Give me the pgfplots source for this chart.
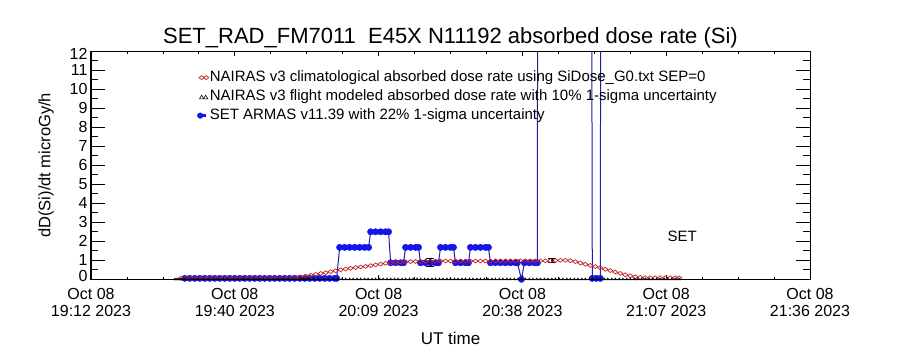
\documentclass[border=0pt]{standalone}
\usepackage{pgfplots}
\pgfplotsset{compat=1.18}
\usepackage{fontspec}
\setmainfont{Liberation Sans}
\definecolor{nred}{RGB}{190,35,35}
\definecolor{bmark}{RGB}{20,20,235}
\definecolor{bline}{RGB}{25,35,160}
\begin{document}
\begin{tikzpicture}[x=1pt,y=1pt]
\path[use as bounding box] (0,0) rectangle (900,350);
\begin{axis}[
  at={(91pt,70.7pt)}, anchor=south west,
  width=719pt, height=228pt, scale only axis,
  xmin=0, xmax=144, ymin=0, ymax=12,
  xtick={0,28.8,57.6,86.4,115.2,144},
  xticklabels={{Oct 08\\19:12 2023},{Oct 08\\19:40 2023},{Oct 08\\20:09 2023},{Oct 08\\20:38 2023},{Oct 08\\21:07 2023},{Oct 08\\21:36 2023}},
  xticklabel style={align=center, yshift=-5pt, font=\fontsize{16}{17}\selectfont},
  minor x tick num=3,
  ytick={1,2,3,4,5,6,7,8,9,10,11},
  extra y ticks={0},
  extra y tick labels={0},
  extra y tick style={yticklabel style={yshift=3pt}},
  ytick style={draw=none},
  yticklabel style={font=\fontsize{16}{17}\selectfont},
  /pgf/number format/assume math mode=true,
  major tick length=4.6pt, minor tick length=2.3pt,
  tick style={black, line width=0.8pt},
  axis line style={black, line width=1pt},
  title={SET\_RAD\_FM7011\ \ E45X N11192 absorbed dose rate (Si)},
  title style={at={(axis description cs:0.5,1)}, anchor=base, yshift=1.5pt, font=\fontsize{22}{24}\selectfont},
  xlabel={UT time},
  xlabel style={at={(axis description cs:0.5,0)}, anchor=center, yshift=-59pt, font=\fontsize{17}{18}\selectfont},
  ylabel={dD(Si)/dt microGy/h},
  ylabel style={at={(axis description cs:-0.0626,0.5)}, anchor=center, rotate=0, font=\fontsize{16.5}{18}\selectfont},
  legend style={at={(axis description cs:0.1474,0.915)}, anchor=north west, draw=none, fill=none,
    font=\fontsize{15}{16}\selectfont, inner sep=0pt, row sep=5.5pt,
    nodes={inner xsep=1pt, inner ysep=0pt, text height=10.5pt, text depth=3pt},
    /tikz/every even column/.append style={column sep=0pt}},
  legend cell align=left,
  clip mode=global,
]
\addlegendimage{legend image code/.code={\draw[nred, line width=0.7pt] plot[only marks, mark=diamond, mark options={rotate=90}, mark size=2.6pt] coordinates {(1.5pt,0pt)(6pt,0pt)};}}
\addlegendentry{NAIRAS v3 climatological absorbed dose rate using SiDose\_G0.txt SEP=0}
\addlegendimage{legend image code/.code={\draw[black, line width=0.6pt] plot[only marks, mark=triangle, mark size=2.5pt] coordinates {(1.5pt,-1pt)(5.5pt,-1pt)};}}
\addlegendentry{NAIRAS v3 flight modeled absorbed dose rate with 10\% 1-sigma uncertainty}
\addlegendimage{legend image code/.code={\draw[bmark, line width=3.5pt] (0pt,0pt) -- (6pt,0pt); \fill[bmark] (0pt,0pt) circle (2.8pt);}}
\addlegendentry{SET ARMAS v11.39 with 22\% 1-sigma uncertainty}

% SET ARMAS measured
\addplot[forget plot, bline, line width=1pt, mark=*, mark size=3.2pt, mark options={fill=bmark, draw=bmark, line width=0.4pt}] coordinates {
(18.8,0.05)(19.8,0.05)(20.8,0.05)(21.8,0.05)(22.8,0.05)(23.8,0.05)(24.8,0.05)(25.8,0.05)(26.8,0.05)(27.8,0.05)
(28.8,0.05)(29.8,0.05)(30.8,0.05)(31.8,0.05)(32.8,0.05)(33.8,0.05)(34.8,0.05)(35.8,0.05)(36.8,0.05)(37.8,0.05)
(38.8,0.05)(39.8,0.05)(40.8,0.05)(41.8,0.05)(42.8,0.05)(43.8,0.05)(44.8,0.05)(45.8,0.05)(46.8,0.05)(47.8,0.05)
(48.8,0.05)(49.2,0.05)
(49.8,1.68)(50.8,1.68)(51.8,1.68)(52.8,1.68)(53.8,1.68)(54.8,1.68)(55.6,1.68)
(56.0,2.5)(57.0,2.5)(58.0,2.5)(59.0,2.5)(59.6,2.5)
(60.0,0.87)(61.0,0.87)(62.0,0.87)(62.6,0.87)
(63.0,1.68)(64.0,1.68)(65.0,1.68)(65.6,1.68)
(66.0,0.87)(67.0,0.87)(68.0,0.87)(69.0,0.87)(69.6,0.87)
(70.0,1.68)(71.0,1.68)(72.0,1.68)(72.6,1.68)
(73.0,0.87)(74.0,0.87)(75.0,0.87)(75.6,0.87)
(76.0,1.68)(77.0,1.68)(78.0,1.68)(79.0,1.68)(79.6,1.68)
(80.0,0.87)(81.0,0.87)(82.0,0.87)(83.0,0.87)(84.0,0.87)(85.0,0.87)(85.4,0.87)
(86.2,0.0)
(86.8,0.87)(87.8,0.87)(88.8,0.87)(89.4,0.87)
(89.5,40)(100.1,40)
(100.4,0.05)(101.2,0.05)(102.0,0.05)
(102.2,40)
};

% NAIRAS climatological
\addplot[forget plot, only marks, nred, mark=diamond, mark size=2.6pt, mark options={rotate=90, line width=0.7pt}] coordinates {
(18,0.05)(19,0.05)(20,0.05)(21,0.05)(22,0.05)(23,0.05)(24,0.05)(25,0.05)(26,0.05)(27,0.05)
(28,0.05)(29,0.05)(30,0.05)(31,0.05)(32,0.05)(33,0.05)(34,0.05)(35,0.05)(36,0.05)(37,0.05)
(38,0.05)(39,0.05)(40,0.05)(41,0.08)(42,0.12)(43,0.17)(44,0.21)(45,0.26)(46,0.31)(47,0.35)
(48,0.40)(49,0.45)(50,0.50)(51,0.54)(52,0.58)(53,0.62)(54,0.65)(55,0.68)(56,0.72)(57,0.76)
(58,0.80)(59,0.84)(60,0.87)(61,0.89)(62,0.91)(63,0.92)(64,0.93)(65,0.94)(66,0.94)(67,0.95)
(68,0.95)(69,0.95)(70,0.96)(71,0.96)(72,0.96)(73,0.96)(74,0.96)(75,0.96)(76,0.96)(77,0.96)
(78,0.96)(79,0.96)(80,0.96)(81,0.97)(82,0.97)(83,0.97)(84,0.97)(85,0.97)(86,0.97)(87,0.97)
(88,0.97)(89,0.97)(90,0.97)(91,0.97)(92,0.98)(93,0.99)(94,1.00)(95,1.00)(96,0.98)(97,0.93)
(98,0.86)(99,0.79)(100,0.73)(101,0.67)(102,0.60)(103,0.53)(104,0.46)(105,0.38)(106,0.31)(107,0.24)
(108,0.18)(109,0.13)(110,0.10)(111,0.08)(112,0.08)(113,0.08)(114,0.08)(115,0.08)(116,0.08)(117,0.08)
(117.8,0.08)
};

% NAIRAS flight modeled
\addplot[forget plot, only marks, black, mark=triangle, mark size=1.4pt, mark options={line width=0.5pt}] coordinates {
(16.8,0)(17.2,0)(17.6,0)(18.0,0)(18.4,0)(18.8,0)(19.5,0)(20.5,0)(21.5,0)(22.5,0)(23.5,0)(24.5,0)
(25.5,0)(26.5,0)(27.5,0)(28.5,0)(29.5,0)(30.5,0)(31.5,0)(32.5,0)(33.5,0)(34.5,0)(35.5,0)(36.5,0)
(37.5,0)(38.5,0)(39.5,0)(40.5,0)(41.8,0)(42.2,0)(42.6,0)(43.0,0)(43.4,0)(43.8,0)(44.5,0)(45.5,0)
(46.5,0)(47.5,0)(48.5,0)(49.5,0)(50.3,0)(51.0,0)(51.8,0)(52.5,0)(53.3,0)(54.0,0)(54.8,0)(55.5,0)
(56.3,0)(57.0,0)(57.8,0)(58.5,0)(59.3,0)(60.0,0)(60.8,0)(61.5,0)(62.3,0)(63.0,0)(63.8,0)(64.5,0)
(65.3,0)(66.0,0)(66.8,0)(67.5,0)(68.3,0)(69.0,0)(69.8,0)(70.5,0)(71.3,0)(72.0,0)(72.8,0)(73.5,0)
(74.3,0)(75.0,0)(75.8,0)(76.5,0)(77.3,0)(78.0,0)(78.8,0)(79.5,0)(80.3,0)(81.0,0)(81.8,0)(82.5,0)
(83.3,0)(84.0,0)(84.8,0)(85.5,0)(86.3,0)(87.0,0)(87.8,0)(88.5,0)(89.3,0)(90.0,0)(90.8,0)(91.5,0)
(92.3,0)(93.0,0)(93.8,0)(94.5,0)(95.3,0)(96.0,0)(96.8,0)(97.5,0)(98.3,0)(99.0,0)(99.8,0)(100.5,0)
(101.3,0)(102.0,0)(102.8,0)(103.5,0)(104.3,0)(105.0,0)(105.8,0)(106.5,0)(107.3,0)(108.0,0)(108.8,0)(109.5,0)
(110.3,0)(111.0,0)(111.8,0)(112.5,0)(113.3,0)(114.0,0)(114.8,0)(115.5,0)(116.3,0)(117.0,0)(117.8,0)
};
\addplot[forget plot, only marks, black, mark=triangle, mark size=1.4pt,
  error bars/.cd, y dir=both, y explicit, error bar style={line width=1pt}, error mark options={rotate=90, mark size=4pt, line width=1pt}] coordinates {
(67.8,0.87) +- (0,0.2)
(92.4,1.0) +- (0,0.1)
};
\node[font=\fontsize{15}{16}\selectfont] at (axis cs:118.4,2.24) {SET};
\end{axis}
\begin{axis}[
  at={(91pt,70.7pt)}, anchor=south west,
  width=719pt, height=228pt, scale only axis,
  xmin=0, xmax=144, ymin=0, ymax=12,
  xtick=\empty,
  ytick={0,1,2,3,4,5,6,7,8,9,10,11,12},
  yticklabels={,,,,,,,,,,,,12},
  yticklabel style={yshift=-3pt, font=\fontsize{16}{17}\selectfont},
  minor y tick num=1,
  major tick length=14.4pt, minor tick length=7.2pt,
  tick style={black, line width=0.8pt},
  axis line style={black, line width=1pt},
]
\end{axis}
\end{tikzpicture}
\end{document}
